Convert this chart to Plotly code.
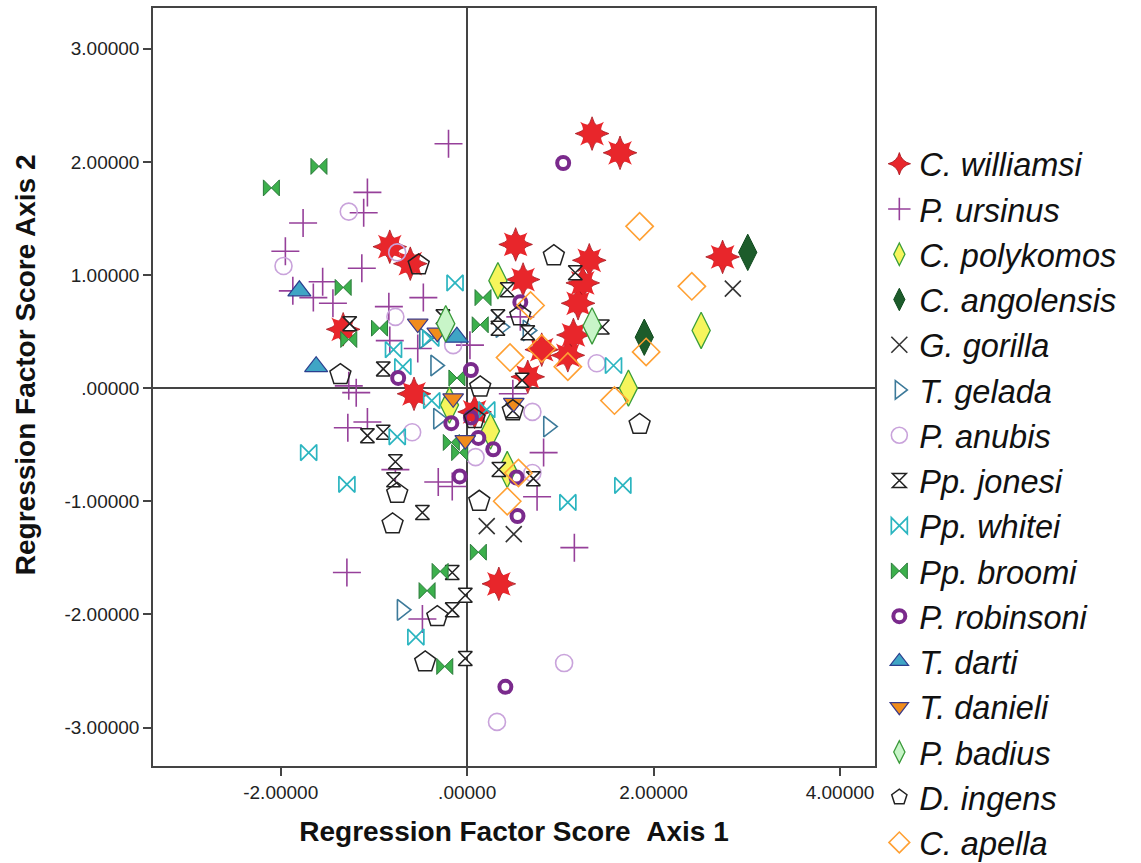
import plotly.graph_objects as go

# ---- data ----
williamsi_x = [1.34, 1.64, 0.52, -0.83, -0.61, 0.60, 1.31, 1.24, 1.19, 1.14, 1.08, 0.80, 0.65, 2.74, -1.33, -0.57, 0.34, 0.08]
williamsi_y = [2.25, 2.08, 1.27, 1.25, 1.10, 0.96, 1.13, 0.93, 0.75, 0.47, 0.29, 0.34, 0.10, 1.16, 0.52, -0.05, -1.73, -0.21]

ursinus_x = [-0.20, -1.07, -1.11, -1.76, -1.95, -1.13, -1.55, -1.87, -1.65, -1.44, -0.47, -0.84, -0.83, -0.53, 0.03,
             -1.27, -1.19, -1.28, -1.07, -0.77, -0.31, -0.16, -1.29, -0.48, 0.49, 0.82, 0.75, 1.15, 0.57]
ursinus_y = [2.16, 1.73, 1.55, 1.46, 1.21, 1.06, 0.94, 0.86, 0.80, 0.75, 0.80, 0.72, 0.42, 0.35, 0.38,
             0.02, -0.04, -0.35, -0.30, -0.72, -0.83, -0.87, -1.63, -2.04, -0.05, -0.57, -0.96, -1.41, 0.63]

polykomos_x = [0.33, 2.51, 1.73, 0.25, 0.43, -0.19]
polykomos_y = [0.95, 0.51, 0.00, -0.38, -0.72, -0.15]

angolensis_x = [3.01, 1.90]
angolensis_y = [1.20, 0.45]

gorilla_x = [2.85, 0.21, 0.50]
gorilla_y = [0.88, -1.22, -1.29]

gelada_x = [-0.34, 0.36, 0.65, 0.87, -0.70, -0.31, -0.46]
gelada_y = [0.20, 0.54, 0.51, -0.34, -1.96, -0.27, 0.44]

anubis_x = [-1.27, -1.97, -0.75, -0.77, -0.15, -0.59, 0.09, 0.70, 0.70, 1.39, 1.04, 0.32]
anubis_y = [1.56, 1.08, 1.20, 0.63, 0.38, -0.39, -0.61, -0.21, -0.75, 0.22, -2.43, -2.95]

jonesi_x = [-1.26, -0.26, -0.90, 0.43, 1.16, 0.33, 0.33, 0.65, 1.45, 0.59, -1.07, -0.90, -0.77, -0.79,
            -0.48, -0.16, -0.02, -0.16, -0.02, 0.49, 0.34, 0.71]
jonesi_y = [0.57, 0.63, 0.17, 0.87, 1.02, 0.63, 0.53, 0.49, 0.54, 0.07, -0.42, -0.39, -0.65, -0.81,
            -1.10, -1.63, -1.83, -1.96, -2.39, -0.20, -0.72, -0.80]

whitei_x = [-0.13, -0.79, -0.69, -0.39, 1.57, -1.70, -1.29, -0.75, -0.55, -0.38, 1.67, 1.08, 0.21]
whitei_y = [0.93, 0.34, 0.19, 0.44, 0.20, -0.57, -0.85, -0.43, -2.20, -0.11, -0.86, -1.01, -0.19]

broomi_x = [-1.59, -2.10, -1.33, -0.94, -1.27, 0.17, 0.14, -0.11, -0.17, -0.08, 0.12, -0.29, -0.43, -0.24]
broomi_y = [1.96, 1.77, 0.89, 0.53, 0.43, 0.80, 0.56, 0.09, -0.48, -0.57, -1.45, -1.62, -1.79, -2.46]

robinsoni_x = [1.03, 0.57, 0.04, -0.74, 0.04, -0.17, 0.12, 0.28, 0.53, -0.08, 0.54, 0.41]
robinsoni_y = [1.99, 0.76, 0.16, 0.09, -0.26, -0.31, -0.44, -0.54, -0.79, -0.78, -1.13, -2.64]

darti_x = [-1.80, -1.62, -0.11]
darti_y = [0.86, 0.19, 0.45]

danieli_x = [-0.53, -0.32, -0.15, -0.02, 0.50]
danieli_y = [0.57, 0.49, -0.09, -0.46, -0.13]

badius_x = [-0.23, 1.34]
badius_y = [0.57, 0.55]

ingens_x = [-0.52, -1.36, 0.14, 0.93, 0.57, 0.13, 1.85, -0.75, -0.80, -0.32, -0.45, 0.49, 0.08]
ingens_y = [1.09, 0.12, 0.01, 1.17, 0.64, -1.00, -0.32, -0.93, -1.20, -2.02, -2.42, -0.20, -0.27]

apella_x = [1.85, 2.41, 0.68, 0.46, 0.80, 1.08, 1.92, 1.58, 0.55, 0.43]
apella_y = [1.43, 0.90, 0.73, 0.27, 0.35, 0.19, 0.32, -0.11, -0.75, -1.00]

x_tickvals = [-2, 0, 2, 4]
x_ticktext = ["-2.00000", ".00000", "2.00000", "4.00000"]
y_tickvals = [-3, -2, -1, 0, 1, 2, 3]
y_ticktext = ["-3.00000", "-2.00000", "-1.00000", ".00000", "1.00000", "2.00000", "3.00000"]

# ---- styles ----
series = [
    ("C. williamsi", williamsi_x, williamsi_y, dict(symbol="star-diamond", size=24, color="#e8262b", line=dict(color="#a3121a", width=0.8))),
    ("P. ursinus", ursinus_x, ursinus_y, dict(symbol="cross-thin-open", size=20, color="#96409a", line=dict(color="#96409a", width=1.6))),
    ("C. polykomos", polykomos_x, polykomos_y, dict(symbol="diamond-tall", size=26, color="#f6f55c", line=dict(color="#3a9e3a", width=1.3))),
    ("C. angolensis", angolensis_x, angolensis_y, dict(symbol="diamond-tall", size=26, color="#1d5c2b", line=dict(color="#0f4a1d", width=1))),
    ("G. gorilla", gorilla_x, gorilla_y, dict(symbol="x-thin-open", size=16, color="#333333", line=dict(color="#333333", width=1.6))),
    ("T. gelada", gelada_x, gelada_y, dict(symbol="triangle-right-open", size=18, color="#3d7a9a", line=dict(color="#3d7a9a", width=1.6))),
    ("P. anubis", anubis_x, anubis_y, dict(symbol="circle-open", size=17, color="#c9a3db", line=dict(color="#c9a3db", width=1.6))),
    ("Pp. jonesi", jonesi_x, jonesi_y, dict(symbol="hourglass", size=14, color="#ffffff", line=dict(color="#222222", width=1.5))),
    ("Pp. whitei", whitei_x, whitei_y, dict(symbol="bowtie-open", size=16, color="#2bb5c0", line=dict(color="#2bb5c0", width=1.7))),
    ("Pp. broomi", broomi_x, broomi_y, dict(symbol="bowtie", size=16, color="#3cb04c", line=dict(color="#2a7a3a", width=1))),
    ("P. robinsoni", robinsoni_x, robinsoni_y, dict(symbol="circle-open", size=12, color="#7a2a8c", line=dict(color="#7a2a8c", width=4))),
    ("T. darti", darti_x, darti_y, dict(symbol="triangle-up", size=20, color="#3fa5c5", line=dict(color="#2b3f8e", width=1.2))),
    ("T. danieli", danieli_x, danieli_y, dict(symbol="triangle-down", size=18, color="#f08c1c", line=dict(color="#3a3a8a", width=1.2))),
    ("P. badius", badius_x, badius_y, dict(symbol="diamond-tall", size=26, color="#c8f5c8", line=dict(color="#3a9a3a", width=1.3))),
    ("D. ingens", ingens_x, ingens_y, dict(symbol="pentagon-open", size=22, color="#222222", line=dict(color="#222222", width=1.5))),
    ("C. apella", apella_x, apella_y, dict(symbol="diamond-open", size=21, color="#ffa033", line=dict(color="#ffa033", width=1.6))),
]

fig = go.Figure()
for i, (name, xs, ys, mk) in enumerate(series):
    leg = "legend" if i < 8 else "legend2"
    fig.add_trace(go.Scatter(x=xs, y=ys, mode="markers", name=name, marker=mk,
                             legend=leg, legendrank=i + 1))
    if name == "C. williamsi":
        # second layer rotated 45 deg turns the four-point star into an eight-point burst
        fig.add_trace(go.Scatter(x=xs, y=ys, mode="markers", name=name, showlegend=False,
                                 hoverinfo="skip",
                                 marker=dict(symbol="star-diamond", size=24, angle=45, color="#e8262b",
                                             line=dict(color="#a3121a", width=0))))

axis_common = dict(showline=True, linecolor="#444444", linewidth=1.5, mirror=True,
                   ticks="outside", ticklen=8, tickcolor="#444444", tickwidth=1.5,
                   showgrid=False, zeroline=True, zerolinecolor="#444444", zerolinewidth=1.5,
                   automargin=False,
                   tickfont=dict(family="Liberation Sans, Arial, sans-serif", size=19, color="#222222"))

fig.update_xaxes(range=[-3.37, 4.375], tickvals=x_tickvals, ticktext=x_ticktext,
                 title=dict(text="<b>Regression Factor Score\u00a0\u00a0Axis 1</b>", standoff=20,
                            font=dict(family="Liberation Sans, Arial", size=28, color="#111111")),
                 **axis_common)
fig.update_yaxes(range=[-3.34, 3.36], tickvals=y_tickvals, ticktext=y_ticktext, **axis_common)

fig.add_annotation(text="<b>Regression Factor Score Axis 2</b>", textangle=-90,
                   xref="paper", yref="paper", x=-0.177, y=0.529,
                   xanchor="center", yanchor="middle", showarrow=False,
                   font=dict(family="Liberation Sans, Arial", size=28, color="#111111"))

legend_font = dict(family="Liberation Sans, Arial, sans-serif", size=32.5, color="#111111", style="italic")
fig.update_layout(
    width=1141, height=863,
    margin=dict(l=153, r=266, t=8, b=97, autoexpand=False),
    paper_bgcolor="white", plot_bgcolor="white",
    legend=dict(x=1.006, xanchor="left", y=0.831, yanchor="top",
                font=legend_font, itemwidth=30, bgcolor="rgba(0,0,0,0)"),
    legend2=dict(x=1.006, xanchor="left", y=0.3535, yanchor="top",
                 font=legend_font, itemwidth=30, bgcolor="rgba(0,0,0,0)"),
    showlegend=True,
)

fig.write_html("out.html")
